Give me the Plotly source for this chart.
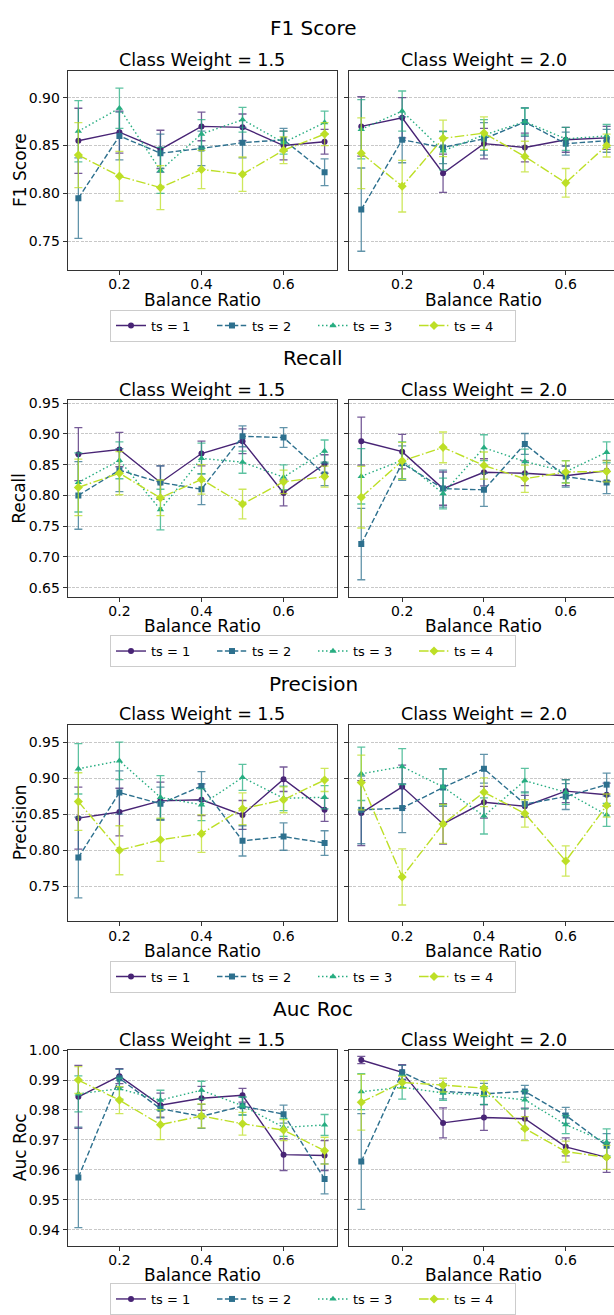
import plotly.graph_objects as go

# ---------------- data ----------------
balance_ratios = [0.1, 0.2, 0.3, 0.4, 0.5, 0.6, 0.7]
ts_labels = ["ts = 1", "ts = 2", "ts = 3", "ts = 4"]
metric_titles = ["F1 Score", "Recall", "Precision", "Auc Roc"]
class_weights = ["Class Weight = 1.5", "Class Weight = 2.0"]

# F1 score, class weight 1.5 / 2.0  (rows: ts=1..4)
f1_cw15_mean = [[0.855, 0.864, 0.846, 0.870, 0.869, 0.850, 0.854],
                [0.795, 0.860, 0.842, 0.847, 0.853, 0.856, 0.822],
                [0.865, 0.889, 0.824, 0.862, 0.877, 0.853, 0.874],
                [0.840, 0.818, 0.806, 0.825, 0.820, 0.845, 0.862]]
f1_cw15_err = [[0.034, 0.022, 0.020, 0.015, 0.014, 0.015, 0.013],
               [0.042, 0.025, 0.020, 0.018, 0.016, 0.012, 0.014],
               [0.032, 0.021, 0.024, 0.015, 0.013, 0.012, 0.012],
               [0.034, 0.026, 0.023, 0.020, 0.018, 0.014, 0.012]]
f1_cw20_mean = [[0.870, 0.879, 0.821, 0.852, 0.848, 0.856, 0.858],
                [0.783, 0.856, 0.848, 0.857, 0.8745, 0.852, 0.855],
                [0.867, 0.886, 0.8445, 0.861, 0.875, 0.857, 0.860],
                [0.842, 0.8075, 0.8575, 0.863, 0.8385, 0.811, 0.850]]
f1_cw20_err = [[0.031, 0.021, 0.020, 0.016, 0.015, 0.013, 0.012],
               [0.0435, 0.024, 0.017, 0.017, 0.015, 0.012, 0.012],
               [0.031, 0.021, 0.020, 0.016, 0.014, 0.012, 0.012],
               [0.037, 0.027, 0.019, 0.017, 0.016, 0.015, 0.012]]

# Recall
recall_cw15_mean = [[0.867, 0.8745, 0.821, 0.868, 0.888, 0.804, 0.851],
                    [0.800, 0.841, 0.821, 0.810, 0.896, 0.894, 0.834],
                    [0.821, 0.857, 0.777, 0.860, 0.854, 0.8295, 0.872],
                    [0.813, 0.836, 0.796, 0.826, 0.786, 0.822, 0.8305]]
recall_cw15_err = [[0.043, 0.028, 0.027, 0.020, 0.020, 0.021, 0.015],
                   [0.055, 0.035, 0.027, 0.025, 0.017, 0.016, 0.018],
                   [0.048, 0.030, 0.033, 0.025, 0.018, 0.020, 0.018],
                   [0.046, 0.035, 0.029, 0.024, 0.024, 0.019, 0.017]]
recall_cw20_mean = [[0.888, 0.871, 0.811, 0.8375, 0.836, 0.832, 0.840],
                    [0.721, 0.8525, 0.811, 0.809, 0.8835, 0.8305, 0.821],
                    [0.831, 0.857, 0.803, 0.8775, 0.855, 0.8385, 0.870],
                    [0.797, 0.856, 0.878, 0.8485, 0.827, 0.838, 0.839]]
recall_cw20_err = [[0.039, 0.028, 0.027, 0.022, 0.020, 0.016, 0.017],
                   [0.058, 0.028, 0.030, 0.027, 0.017, 0.017, 0.018],
                   [0.045, 0.030, 0.025, 0.021, 0.020, 0.018, 0.017],
                   [0.050, 0.030, 0.025, 0.022, 0.022, 0.018, 0.017]]

# Precision
precision_cw15_mean = [[0.8445, 0.853, 0.8685, 0.870, 0.849, 0.8985, 0.856],
                       [0.790, 0.880, 0.8645, 0.889, 0.813, 0.819, 0.810],
                       [0.913, 0.924, 0.8735, 0.863, 0.901, 0.872, 0.8735],
                       [0.8675, 0.800, 0.8145, 0.823, 0.8575, 0.870, 0.8975]]
precision_cw15_err = [[0.043, 0.033, 0.026, 0.022, 0.020, 0.017, 0.016],
                      [0.056, 0.030, 0.023, 0.020, 0.021, 0.019, 0.017],
                      [0.035, 0.026, 0.030, 0.022, 0.018, 0.017, 0.016],
                      [0.040, 0.034, 0.030, 0.026, 0.022, 0.018, 0.016]]
precision_cw20_mean = [[0.8515, 0.888, 0.8365, 0.8665, 0.861, 0.882, 0.877],
                       [0.856, 0.8585, 0.887, 0.913, 0.864, 0.8745, 0.891],
                       [0.906, 0.916, 0.888, 0.8475, 0.8965, 0.8805, 0.849],
                       [0.894, 0.763, 0.8365, 0.8805, 0.851, 0.785, 0.862]]
precision_cw20_err = [[0.045, 0.030, 0.028, 0.022, 0.015, 0.016, 0.016],
                      [0.047, 0.034, 0.026, 0.020, 0.017, 0.018, 0.016],
                      [0.037, 0.025, 0.025, 0.025, 0.017, 0.017, 0.016],
                      [0.038, 0.039, 0.027, 0.020, 0.019, 0.021, 0.016]]

# AUC ROC
auc_cw15_mean = [[0.9844, 0.9913, 0.9816, 0.9839, 0.9849, 0.9651, 0.9648],
                 [0.9575, 0.9906, 0.9804, 0.9779, 0.9813, 0.9786, 0.9570],
                 [0.9854, 0.9871, 0.9833, 0.9866, 0.9814, 0.9742, 0.9750],
                 [0.9900, 0.9833, 0.9751, 0.9780, 0.9754, 0.9733, 0.9664]]
auc_cw15_err = [[0.0105, 0.0025, 0.0040, 0.0040, 0.0023, 0.0053, 0.0050],
                [0.0168, 0.0030, 0.0030, 0.0040, 0.0030, 0.0030, 0.0050],
                [0.0060, 0.0035, 0.0033, 0.0030, 0.0030, 0.0030, 0.0035],
                [0.0045, 0.0045, 0.0050, 0.0040, 0.0038, 0.0035, 0.0045]]
auc_cw20_mean = [[0.9967, 0.9926, 0.9757, 0.9775, 0.9771, 0.9677, 0.9642],
                 [0.9628, 0.9926, 0.9862, 0.9854, 0.9862, 0.9782, 0.9681],
                 [0.9861, 0.9876, 0.9857, 0.9848, 0.9834, 0.9751, 0.9692],
                 [0.9826, 0.9892, 0.9883, 0.9873, 0.9738, 0.9661, 0.9642]]
auc_cw20_err = [[0.0012, 0.0025, 0.0050, 0.0043, 0.0035, 0.0030, 0.0050],
                [0.0160, 0.0023, 0.0025, 0.0035, 0.0020, 0.0027, 0.0040],
                [0.0060, 0.0040, 0.0025, 0.0030, 0.0030, 0.0030, 0.0045],
                [0.0093, 0.0020, 0.0023, 0.0025, 0.0040, 0.0035, 0.0040]]

y_tickvals = [[0.75, 0.80, 0.85, 0.90],
              [0.65, 0.70, 0.75, 0.80, 0.85, 0.90, 0.95],
              [0.75, 0.80, 0.85, 0.90, 0.95],
              [0.94, 0.95, 0.96, 0.97, 0.98, 0.99, 1.00]]
y_ranges = [[0.7202, 0.9276], [0.6355, 0.9553], [0.7020, 0.9743], [0.9347, 1.0001]]
x_tickvals = [0.2, 0.4, 0.6]

panels = [
    [(f1_cw15_mean, f1_cw15_err), (f1_cw20_mean, f1_cw20_err)],
    [(recall_cw15_mean, recall_cw15_err), (recall_cw20_mean, recall_cw20_err)],
    [(precision_cw15_mean, precision_cw15_err), (precision_cw20_mean, precision_cw20_err)],
    [(auc_cw15_mean, auc_cw15_err), (auc_cw20_mean, auc_cw20_err)],
]

# ---------------- styles ----------------
W, H = 614, 1315
FONT = "DejaVu Sans"
colors = ["#482475", "#2d708e", "#27ad81", "#bddf26"]
err_colors = ["rgba(72,36,117,0.75)", "rgba(45,112,142,0.75)",
              "rgba(39,173,129,0.75)", "rgba(189,223,38,0.75)"]
dashes = ["solid", "5.5px,2.4px", "1.5px,2.5px", "9.6px,2.4px,1.5px,2.4px"]
symbols = ["circle", "square", "triangle-up", "diamond"]
msizes = [6, 6, 6.5, 7]

row_px = [(64, 264.5), (396, 595), (724.3, 922.7), (1053, 1251)]
col_px = [(67.7, 336.7), (349, 614)]
x_ranges = [[0.074, 0.7295], [0.070, 0.718]]
col_centers = [202, 483.5]
subtitle_y = [53, 386, 714, 1043]
suptitle_y = [20, 354, 683, 1012]
xlabel_y = [295, 625, 953, 1281]
legend_y = [321, 650, 979, 1305]


def px_x(p):
    return p / W


def px_y(p):
    return 1 - p / H


fig = go.Figure()
layout = dict(width=W, height=H, margin=dict(l=0, r=0, t=0, b=0),
              paper_bgcolor="white", plot_bgcolor="white",
              font=dict(family=FONT, color="black"))
annotations = []

for r in range(4):
    top, bot = row_px[r]
    for c in range(2):
        idx = 2 * r + c + 1
        sfx = "" if idx == 1 else str(idx)
        means, errs = panels[r][c]
        leg_name = "legend" if r == 0 else f"legend{r + 1}"
        for k in range(4):
            fig.add_trace(go.Scatter(
                x=balance_ratios, y=means[k],
                error_y=dict(type="data", array=errs[k], color=err_colors[k],
                             thickness=1.3, width=4),
                mode="lines+markers",
                line=dict(color=colors[k], width=1.4, dash=dashes[k]),
                marker=dict(symbol=symbols[k], size=msizes[k], color=colors[k],
                            line=dict(width=0)),
                name=ts_labels[k],
                showlegend=(c == 0),
                legend=leg_name,
                xaxis="x" + sfx, yaxis="y" + sfx,
            ))
        x0, x1 = col_px[c]
        layout["xaxis" + sfx] = dict(
            domain=[px_x(x0), min(px_x(x1), 1.0)], anchor="y" + sfx,
            range=x_ranges[c], tickvals=x_tickvals, tickformat=".1f",
            showgrid=False, zeroline=False,
            showline=True, mirror=True, linecolor="#333333", linewidth=1,
            ticks="outside", ticklen=4, tickwidth=1, tickcolor="#333333",
            ticklabelstandoff=-2,
            tickfont=dict(size=14, family=FONT, color="black"),
        )
        layout["yaxis" + sfx] = dict(
            domain=[px_y(bot), px_y(top)], anchor="x" + sfx,
            range=y_ranges[r], tickvals=y_tickvals[r], tickformat=".2f",
            showgrid=True, gridcolor="#c8c8c8", gridwidth=0.8, griddash="3px,1.3px",
            zeroline=False,
            showline=True, mirror=(c == 0), linecolor="#333333", linewidth=1,
            ticks="outside", ticklen=4, tickwidth=1, tickcolor="#333333",
            showticklabels=(c == 0),
            tickfont=dict(size=14, family=FONT, color="black"),
        )
        annotations.append(dict(
            text=class_weights[c], x=px_x(col_centers[c]), y=px_y(subtitle_y[r]),
            xref="paper", yref="paper", xanchor="center", yanchor="middle",
            showarrow=False, font=dict(size=17.5, family=FONT, color="black")))
        annotations.append(dict(
            text="Balance Ratio", x=px_x(col_centers[c]), y=px_y(xlabel_y[r]),
            xref="paper", yref="paper", xanchor="center", yanchor="middle",
            showarrow=False, font=dict(size=17, family=FONT, color="black")))
    annotations.append(dict(
        text=metric_titles[r], x=px_x(313), y=px_y(suptitle_y[r]),
        xref="paper", yref="paper", xanchor="center", yanchor="middle",
        showarrow=False, font=dict(size=20, family=FONT, color="black")))
    annotations.append(dict(
        text=metric_titles[r], x=px_x(19.5), y=px_y((top + bot) / 2),
        xref="paper", yref="paper", xanchor="center", yanchor="middle",
        textangle=-90, showarrow=False,
        font=dict(size=17, family=FONT, color="black")))
    leg_key = "legend" if r == 0 else f"legend{r + 1}"
    layout[leg_key] = dict(
        orientation="h", x=px_x(313), xanchor="center",
        y=px_y(legend_y[r]), yanchor="middle",
        bgcolor="white", bordercolor="#cccccc", borderwidth=1,
        font=dict(size=13, family=FONT, color="black"),
        entrywidth=56, entrywidthmode="pixels", itemwidth=30,
        tracegroupgap=0,
    )

layout["annotations"] = annotations
fig.update_layout(**layout)

page_fix = (
    "document.documentElement.style.margin='0';"
    "document.documentElement.style.padding='0';"
    "document.documentElement.style.overflow='hidden';"
    "document.body.style.margin='0';"
    "document.body.style.padding='0';"
    "document.body.style.overflow='hidden';"
    "var gd=document.querySelector('.plotly-graph-div');"
    "gd.style.position='absolute';gd.style.top='0px';gd.style.left='0px';"
)
fig.write_html("out.html", config={"displayModeBar": False}, post_script=page_fix)
